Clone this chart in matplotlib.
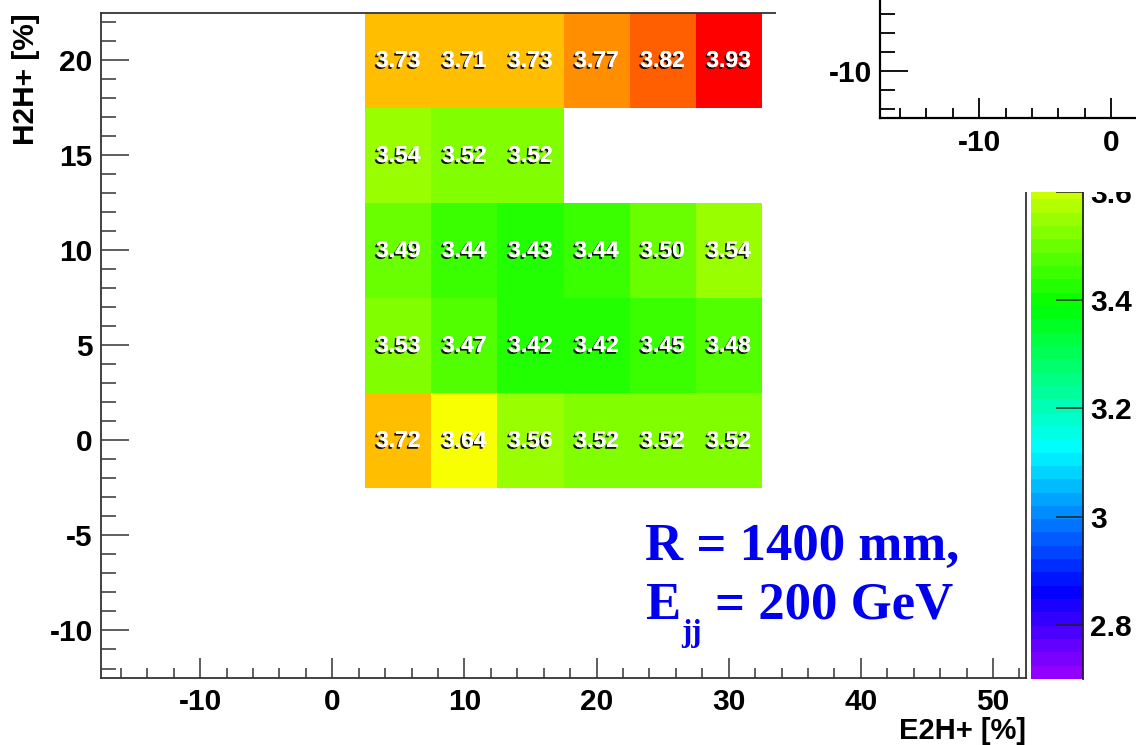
import colorsys
import numpy as np
import matplotlib
matplotlib.use('Agg')
import matplotlib.pyplot as plt
import matplotlib.patheffects as pe
from matplotlib.colors import ListedColormap, Normalize
from matplotlib.patches import Rectangle
from matplotlib.ticker import MultipleLocator, FixedLocator

# bin centres of the 2D histogram
x_centers = [5, 10, 15, 20, 25, 30]
y_centers = [0, 5, 10, 15, 20]

# one list per row of bins (H2H+ value), nan = empty bin
row_0 = [3.72, 3.64, 3.56, 3.52, 3.52, 3.52]
row_5 = [3.53, 3.47, 3.42, 3.42, 3.45, 3.48]
row_10 = [3.49, 3.44, 3.43, 3.44, 3.50, 3.54]
row_15 = [3.54, 3.52, 3.52, np.nan, np.nan, np.nan]
row_20 = [3.73, 3.71, 3.73, 3.77, 3.82, 3.93]

z_min, z_max = 2.7, 3.93
cbar_ticks = [2.8, 3.0, 3.2, 3.4, 3.6, 3.8]
cbar_labels = ['2.8', '3', '3.2', '3.4', '3.6', '3.8']

x_label = 'E2H+ [%]'
y_label = 'H2H+ [%]'

# visible corner of the neighbouring pad
inset_x_major = [-10, 0]
inset_x_minor = [-16, -14, -12, -8, -6, -4, -2]
inset_y_major = [-10]
inset_y_minor = [-12, -11, -9, -8, -7]

plt.rcParams['font.family'] = ['Liberation Sans', 'DejaVu Sans']
plt.rcParams['font.weight'] = 'bold'
plt.rcParams['axes.unicode_minus'] = False

# ROOT "pretty" palette: 50 hues from violet to red
pal = [colorsys.hls_to_rgb((280 - (i + 1) * 5.6) / 360, 0.5, 1.0) for i in range(50)]
cmap = ListedColormap(pal)
cmap.set_bad((1, 1, 1, 0))
norm = Normalize(vmin=z_min, vmax=z_max)

z = np.ma.masked_invalid(np.array([row_0, row_5, row_10, row_15, row_20]))
xc = np.array(x_centers, dtype=float)
yc = np.array(y_centers, dtype=float)
x_edges = np.append(xc - 2.5, xc[-1] + 2.5)
y_edges = np.append(yc - 2.5, yc[-1] + 2.5)

W, H = 1136, 745
fig = plt.figure(figsize=(W / 100, H / 100), dpi=100)
ax = fig.add_axes([101 / W, 1 - 678 / H, 925 / W, 665 / H])

mesh = ax.pcolormesh(x_edges, y_edges, z, cmap=cmap, norm=norm)

shadow = [pe.withSimplePatchShadow(offset=(-1.3, -1.3), shadow_rgbFace='black', alpha=0.9), pe.Normal()]
for j, yv in enumerate(y_centers):
    for i, xv in enumerate(x_centers):
        v = z[j, i]
        if np.ma.is_masked(v):
            continue
        ax.text(xv, yv, '%.2f' % v, ha='center', va='center', color='white',
                fontsize=16.5, fontweight='bold', path_effects=shadow)

ax.set_xlim(-17.5, 52.5)
ax.set_ylim(-12.5, 22.5)
ax.xaxis.set_major_locator(MultipleLocator(10))
ax.xaxis.set_minor_locator(MultipleLocator(2))
ax.yaxis.set_major_locator(MultipleLocator(5))
ax.yaxis.set_minor_locator(MultipleLocator(1))
ax.tick_params(axis='x', which='major', direction='in', length=14.5, width=1.1, labelsize=21.5, pad=7, color='#333333')
ax.tick_params(axis='x', which='minor', direction='in', length=7.2, width=1.1, color='#333333')
ax.tick_params(axis='y', which='major', direction='in', length=20, width=1.1, labelsize=21.5, pad=6, color='#333333')
ax.tick_params(axis='y', which='minor', direction='in', length=10.8, width=1.1, color='#333333')
for s in ax.spines.values():
    s.set_linewidth(1.3)
    s.set_color('#333333')

ax.set_xlabel(x_label, fontsize=21, fontweight='bold', loc='right')
ax.set_ylabel(y_label, fontsize=21.5, fontweight='bold', loc='top')
ax.xaxis.set_label_coords(1.0, -0.058)
ax.yaxis.set_label_coords(-0.066, 1.0)

# annotation in Times-like bold blue
txt_kw = dict(color='#0000ee', fontfamily='Liberation Serif', fontweight='bold', fontsize=38, va='baseline')
ax.text(23.7, -6.3, 'R = 1400 mm,', **txt_kw)
ax.text(23.7, -9.37, 'E', **txt_kw)
ax.text(26.4, -10.55, 'jj', **dict(txt_kw, fontsize=22))
ax.text(29.0, -9.37, '= 200 GeV', **txt_kw)

# colour palette on the right
cax = fig.add_axes([1031 / W, 1 - 679 / H, 52 / W, 666 / H])
cbar = fig.colorbar(mesh, cax=cax)
cbar.outline.set_visible(False)
cax.spines['right'].set_visible(True)
cax.spines['right'].set_linewidth(1.3)
cax.spines['right'].set_color('#222222')
cbar.set_ticks(cbar_ticks)
cbar.set_ticklabels(cbar_labels)
cax.tick_params(axis='y', which='both', direction='in', length=19.5, width=1.1, labelsize=21.5, pad=5, color='#222222')
cax.minorticks_off()

# white patch with the corner of the neighbouring pad on top
fig.patches.append(Rectangle((776 / W, 1 - 192 / H), 1 - 776 / W, 192 / H, transform=fig.transFigure,
                             facecolor='white', edgecolor='none', zorder=5))
ax2 = fig.add_axes([880 / W, 1 - 118 / H, 925 / W, 665 / H])
ax2.set_zorder(10)
ax2.patch.set_alpha(0)
ax2.set_xlim(-17.5, 52.5)
ax2.set_ylim(-12.5, 22.5)
ax2.xaxis.set_major_locator(FixedLocator(inset_x_major))
ax2.xaxis.set_minor_locator(FixedLocator(inset_x_minor))
ax2.yaxis.set_major_locator(FixedLocator(inset_y_major))
ax2.yaxis.set_minor_locator(FixedLocator(inset_y_minor))
ax2.tick_params(axis='x', which='major', direction='in', length=14.5, width=1.3, labelsize=21.5, pad=8, color='black')
ax2.tick_params(axis='x', which='minor', direction='in', length=7.2, width=1.3, color='black')
ax2.tick_params(axis='y', which='major', direction='in', length=20, width=1.3, labelsize=21.5, pad=6, color='black')
ax2.tick_params(axis='y', which='minor', direction='in', length=10.8, width=1.3, color='black')
for s in ax2.spines.values():
    s.set_linewidth(1.6)
    s.set_color('black')

fig.savefig('out.png', dpi=100)
